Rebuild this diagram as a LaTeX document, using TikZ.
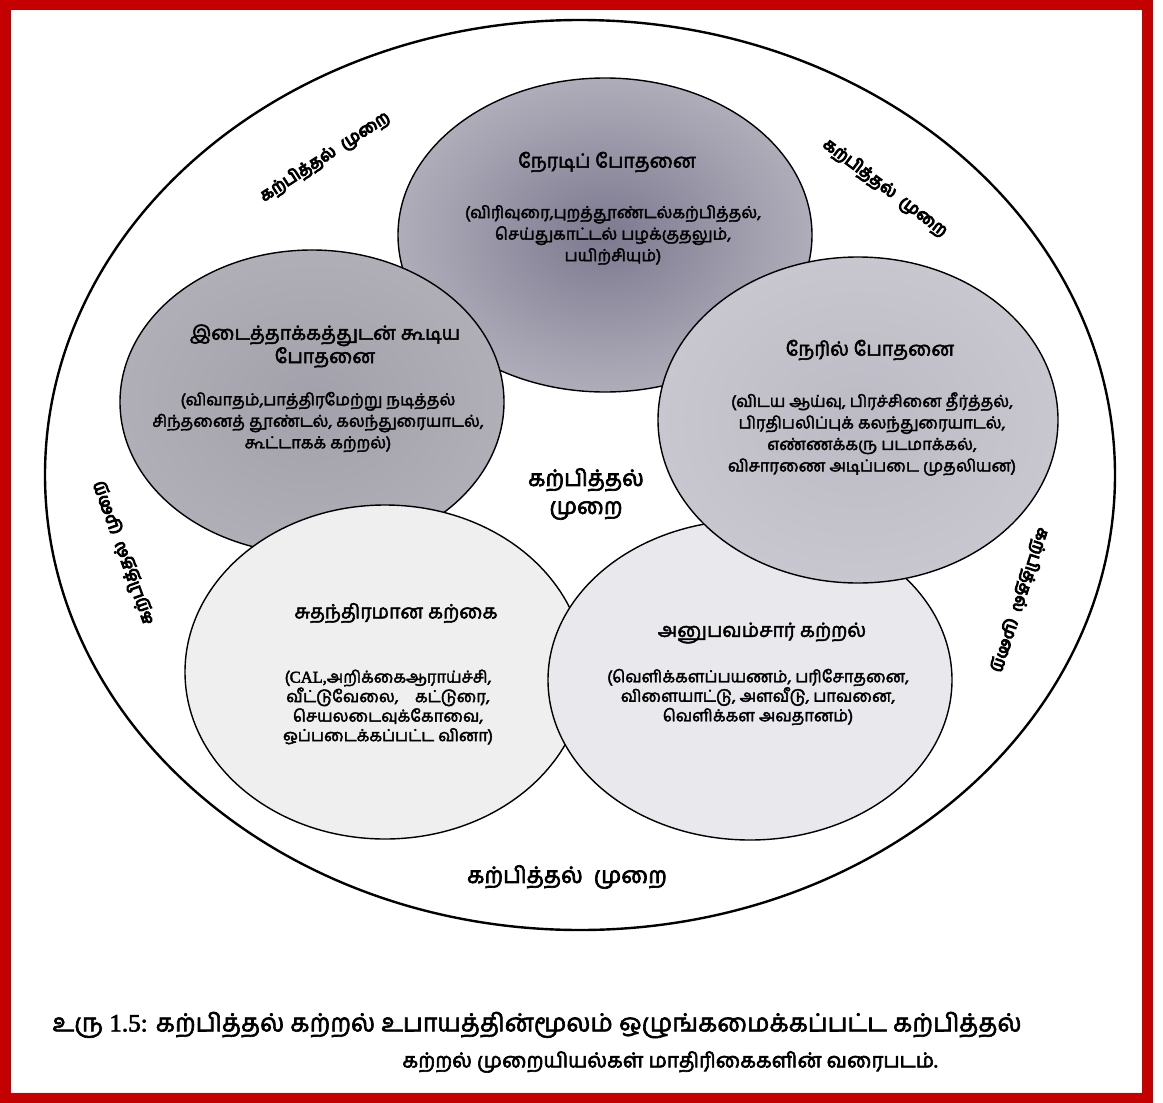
\documentclass[tikz,border=0pt]{standalone}
\usepackage{fontspec}
\newfontfamily\tamil[Script=Tamil]{Hind Madurai}
\newfontfamily\lat{Liberation Serif}
\usetikzlibrary{shapes.geometric}
\definecolor{frame}{HTML}{C40000}
\newcommand\heavyon[1]{\special{pdf:code #1 w 2 Tr}}
\newcommand\heavyoff{\special{pdf:code 0 Tr}}
\begin{document}
\begin{tikzpicture}[x=1pt,y=-1pt,
  bubble/.style={ellipse, draw=black, line width=1.4pt, inner sep=0pt},
  ttl/.style={font=\tamil\fontsize{19.5}{22}\selectfont, align=center, inner sep=0pt},
  body/.style={font=\tamil\fontsize{16.5}{21.5}\selectfont, align=center, inner sep=0pt},
  bodyt/.style={font=\tamil\fontsize{16.5}{19.5}\selectfont, align=center, inner sep=0pt},
  rlab/.style={font=\tamil\fontsize{17}{20}\selectfont, inner sep=0pt},
  midlab/.style={font=\tamil\fontsize{22.5}{28}\selectfont, align=center, inner sep=0pt},
  captext/.style={inner sep=0pt}]
\useasboundingbox (0,0) rectangle (1163,1103);
\fill[white] (0,0) rectangle (1163,1103);
\draw[frame, line width=11pt] (5,4.5) rectangle (1147,1098);
% outer circle
\node[ellipse, draw=black, line width=2.4pt, inner sep=0pt, minimum width=1070pt, minimum height=910pt] (outer) at (580,475) {};
% bubbles
\node[bubble, inner color={rgb,255:red,124;green,121;blue,144}, outer color={rgb,255:red,176;green,173;blue,186}, minimum width=414pt, minimum height=314pt] (A) at (605,235) {};
\node[bubble, inner color={rgb,255:red,162;green,160;blue,170}, outer color={rgb,255:red,176;green,174;blue,182}, minimum width=384pt, minimum height=304pt] (B) at (312,402) {};
\node[bubble, fill={rgb,255:red,239;green,239;blue,239}, minimum width=400pt, minimum height=334pt] (D) at (385,672) {};
\node[bubble, fill={rgb,255:red,233;green,233;blue,237}, minimum width=404pt, minimum height=320pt] (E) at (750,680) {};
\node[bubble, inner color={rgb,255:red,188;green,186;blue,196}, outer color={rgb,255:red,200;green,198;blue,206}, minimum width=400pt, minimum height=326pt] (C) at (858,420) {};
% texts in A
\node[ttl] (At) at (607,162) {\heavyon{0.5}நேரடிப் போதனை\heavyoff};
\node[body] (Ab) at (613,235) {\heavyon{0.4}(விரிவுரை,புறத்தூண்டல்கற்பித்தல்,\\செய்துகாட்டல் பழக்குதலும்,\\பயிற்சியும்)\heavyoff};
% texts in B
\node[ttl] (Bt) at (325,346) {\heavyon{0.5}இடைத்தாக்கத்துடன் கூடிய\\போதனை\heavyoff};
\node[body] (Bb) at (318,422) {\heavyon{0.4}(விவாதம்,பாத்திரமேற்று நடித்தல்\\சிந்தனைத் தூண்டல், கலந்துரையாடல்,\\கூட்டாகக் கற்றல்)\heavyoff};
% texts in C
\node[ttl] (Ct) at (870,350) {\heavyon{0.5}நேரில் போதனை\heavyoff};
\node[body] (Cb) at (872,434) {\heavyon{0.4}(விடய ஆய்வு, பிரச்சினை தீர்த்தல்,\\பிரதிபலிப்புக் கலந்துரையாடல்,\\எண்ணக்கரு படமாக்கல்,\\விசாரணை அடிப்படை முதலியன)\heavyoff};
% texts in D
\node[ttl] (Dt) at (396,613) {\heavyon{0.5}சுதந்திரமான கற்கை\heavyoff};
\node[bodyt] (Db) at (388,707) {\heavyon{0.4}({\lat CAL,}அறிக்கைஆராய்ச்சி,\\வீட்டுவேலை,\quad கட்டுரை,\\செயலடைவுக்கோவை,\\ஒப்படைக்கப்பட்ட வினா)\heavyoff};
% texts in E
\node[ttl] (Et) at (762,633) {\heavyon{0.5}அனுபவம்சார் கற்றல்\heavyoff};
\node[bodyt] (Eb) at (758,697) {\heavyon{0.4}(வெளிக்களப்பயணம், பரிசோதனை,\\விளையாட்டு, அளவீடு, பாவனை,\\வெளிக்கள அவதானம்)\heavyoff};
% centre label
\node[midlab] (mid) at (586,494) {\heavyon{0.7}கற்பித்தல்\\முறை\heavyoff};
% labels around the ring
\node[rlab, rotate=33] (ltl) at (325,157) {\heavyon{1.1}கற்பித்தல்\ \ முறை\heavyoff};
\node[rlab, rotate=-37] (ltr) at (885,188) {\heavyon{1.1}கற்பித்தல்\ \ முறை\heavyoff};
\node[rlab, rotate=110] (ll) at (123,553) {\heavyon{1.1}கற்பித்தல்\ \ முறை\heavyoff};
\node[rlab, rotate=-108] (lr) at (1020,600) {\heavyon{1.1}கற்பித்தல்\ \ முறை\heavyoff};
\node[midlab] (lbot) at (567,877) {\heavyon{0.7}கற்பித்தல்\ \ முறை\heavyoff};
% caption
\node[captext, font=\tamil\fontsize{25}{28}\selectfont] (cap1) at (537,1025) {\heavyon{0.6}உரு {\lat 1.5:} கற்பித்தல் கற்றல் உபாயத்தின்மூலம் ஒழுங்கமைக்கப்பட்ட கற்பித்தல்\heavyoff};
\node[captext, font=\tamil\fontsize{20.5}{26}\selectfont] (cap2) at (670,1062) {\heavyon{0.6}கற்றல் முறையியல்கள் மாதிரிகைகளின் வரைபடம்.\heavyoff};
\end{tikzpicture}
\end{document}
